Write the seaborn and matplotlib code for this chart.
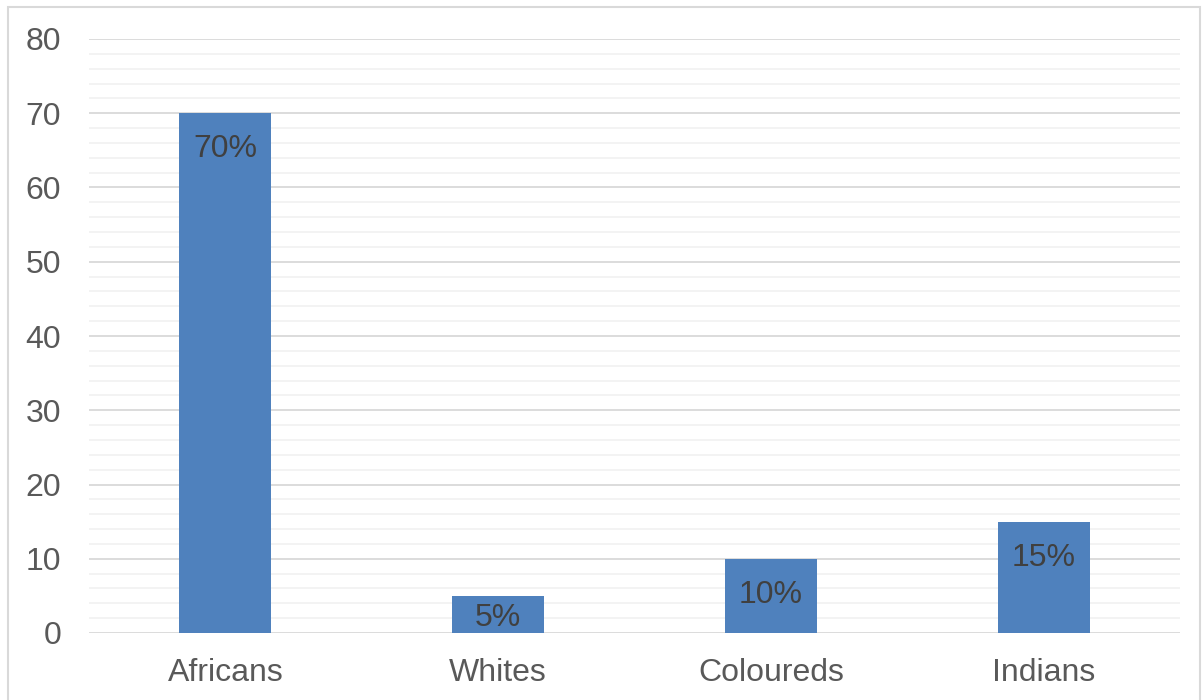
import matplotlib
matplotlib.use("Agg")
import matplotlib.pyplot as plt
import seaborn as sns
import pandas as pd
from matplotlib.patches import Rectangle
from matplotlib.ticker import MultipleLocator

categories = ["Africans", "Whites", "Coloureds", "Indians"]
values = [70, 5, 10, 15]
bar_labels = ["70%", "5%", "10%", "15%"]

sns.set_theme(style="white")
plt.rcParams['font.family'] = ['Liberation Sans', 'DejaVu Sans']

DPI = 100
fig = plt.figure(figsize=(12.03, 7.0), dpi=DPI)
ax = fig.add_axes([89/1203, 1-633/700, (1180-89)/1203, (633-39)/700])

df = pd.DataFrame({"cat": categories, "val": values})
sns.barplot(data=df, x="cat", y="val", ax=ax, color="#4F81BD", saturation=1,
            width=0.337, edgecolor="none")

ax.set_ylim(0, 80)
ax.set_xlim(-0.5, 3.5)
ax.yaxis.set_major_locator(MultipleLocator(10))
ax.yaxis.set_minor_locator(MultipleLocator(2))
ax.grid(which="minor", axis="y", color="#F2F2F2", linewidth=1.3, zorder=0)
ax.grid(which="major", axis="y", color="#D9D9D9", linewidth=1.3, zorder=0)
ax.set_axisbelow(True)
for s in ax.spines.values():
    s.set_visible(False)
ax.set_xlabel("")
ax.set_ylabel("")
ax.tick_params(axis="y", which="both", length=0, pad=20, labelsize=23, labelcolor="#595959")
ax.tick_params(axis="x", length=0, pad=18, labelsize=23, labelcolor="#595959")

# inside-end labels (centered in the bar when the bar is short)
px_per_unit = (633 - 39) / 80.0
for i, (v, lab) in enumerate(zip(values, bar_labels)):
    bar_px = v * px_per_unit
    off_px = min(32.0, bar_px / 2.0) + 12.0
    ax.annotate(lab, xy=(i, v), xytext=(0, -off_px * 72 / DPI), textcoords="offset points",
                ha="center", va="baseline", fontsize=23, color="#404040")

fig.patches.append(Rectangle((8/1203, -0.05), (1200-8)/1203, 1.05 - 7/700,
                             transform=fig.transFigure, fill=False,
                             edgecolor="#D9D9D9", linewidth=1.5))

fig.savefig("out.png", dpi=DPI)
